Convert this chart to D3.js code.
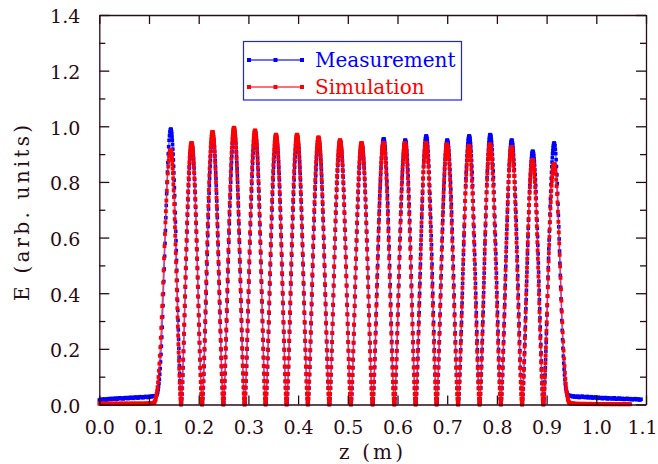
<!DOCTYPE html>
<html><head><meta charset="utf-8">
<script src="https://cdn.jsdelivr.net/npm/d3@7/dist/d3.min.js"></script>
<style>body{margin:0;background:#fff}svg{display:block}</style>
</head><body>
<svg id="c" width="658" height="464"></svg>
<script>
// ---------- data ----------
const xTicks = [0.0,0.1,0.2,0.3,0.4,0.5,0.6,0.7,0.8,0.9,1.0,1.1];
const yTicks = [0.0,0.2,0.4,0.6,0.8,1.0,1.2,1.4];
const yMinorTicks = [0.1,0.3,0.5,0.7,0.9,1.1,1.3];
const seriesNames = ["Measurement","Simulation"];

// peak positions (m) of the 19 lobes
const simPeakZ  = [0.1433,0.1855,0.2278,0.2710,0.3133,0.3555,0.3978,0.4410,0.4843,0.5276,
                   0.5718,0.6151,0.6573,0.6996,0.7439,0.7861,0.8294,0.8716,0.9149];
const measPeakZ = [0.1437,0.1860,0.2283,0.2714,0.3138,0.3560,0.3983,0.4414,0.4848,0.5281,
                   0.5722,0.6156,0.6578,0.7001,0.7443,0.7866,0.8298,0.8721,0.9153];
// lobe peak heights
const measAmp = [0.990,0.935,0.965,0.980,0.975,0.960,0.960,0.950,0.945,0.935,
                 0.955,0.950,0.965,0.950,0.965,0.970,0.950,0.910,0.940];
const simAmp  = [0.915,0.940,0.980,0.995,0.985,0.970,0.970,0.960,0.950,0.940,
                 0.940,0.940,0.940,0.935,0.930,0.935,0.925,0.880,0.865];
// normalised half-lobe shape, valley -> peak (41 samples)
const halfLobe = [0.000,0.008,0.022,0.040,0.062,0.086,0.113,0.141,0.172,0.204,
                  0.237,0.271,0.306,0.342,0.378,0.414,0.451,0.487,0.523,0.559,
                  0.595,0.629,0.663,0.696,0.728,0.758,0.787,0.815,0.841,0.865,
                  0.888,0.909,0.927,0.944,0.959,0.971,0.982,0.990,0.995,0.999,1.000];
// normalised shape of the outer flanks (foot -> peak), 41 samples
const edgeShape = [0.000,0.000,0.000,0.001,0.001,0.003,0.006,0.011,0.016,0.025,
                   0.035,0.048,0.063,0.082,0.103,0.128,0.156,0.187,0.221,0.258,
                   0.297,0.339,0.383,0.429,0.476,0.524,0.572,0.620,0.668,0.714,
                   0.758,0.800,0.839,0.874,0.907,0.934,0.958,0.975,0.989,0.997,1.000];
// foot positions of the outer flanks (left, right)
const measFeet = [0.111,0.946];
const simFeet  = [0.106,0.950];
// flat background, 2 mm sampling
const bgStep = 0.002;
const measBgLeftStart = 0.000;
const measBgLeft = [0.016,0.018,0.015,0.019,0.017,0.020,0.018,0.016,0.019,0.021,
                    0.018,0.020,0.022,0.019,0.021,0.020,0.023,0.021,0.019,0.022,
                    0.024,0.021,0.023,0.022,0.020,0.024,0.022,0.025,0.023,0.021,
                    0.024,0.026,0.023,0.025,0.022,0.026,0.024,0.027,0.025,0.023,
                    0.026,0.028,0.025,0.027,0.024,0.028,0.026,0.029,0.027,0.025,
                    0.028,0.030,0.027,0.029,0.031,0.030];
const simBgLeftStart = 0.000;
const simBgLeft = [0.003,0.002,0.003,0.004,0.002,0.003,0.003,0.002,0.004,0.003,
                   0.002,0.003,0.004,0.003,0.002,0.003,0.003,0.004,0.002,0.003,
                   0.003,0.002,0.004,0.003,0.003,0.002,0.003,0.004,0.003,0.002,
                   0.003,0.003,0.004,0.002,0.003,0.003,0.004,0.003,0.002,0.003,
                   0.004,0.003,0.003,0.002,0.004,0.003,0.003,0.004,0.003,0.004,
                   0.004,0.005,0.005];
const measBgRightStart = 0.948;
const measBgRight = [0.032,0.030,0.028,0.031,0.027,0.029,0.026,0.030,0.028,0.025,
                     0.029,0.027,0.030,0.026,0.028,0.025,0.027,0.029,0.024,0.027,
                     0.025,0.028,0.023,0.026,0.024,0.027,0.025,0.022,0.026,0.024,
                     0.023,0.025,0.021,0.024,0.022,0.025,0.023,0.020,0.024,0.022,
                     0.021,0.023,0.020,0.022,0.024,0.021,0.019,0.022,0.020,0.023,
                     0.021,0.019,0.022,0.020,0.018,0.021,0.019,0.022,0.020,0.018,
                     0.021,0.019,0.017,0.020,0.018,0.021,0.019,0.017,0.020,0.018,
                     0.016,0.019];
const simBgRightStart = 0.952;
const simBgRight = [0.004,0.004,0.003,0.003,0.002,0.003,0.002,0.003,0.002,0.002,
                    0.003,0.002,0.002,0.003,0.002,0.001,0.002,0.002,0.003,0.002,
                    0.001,0.002,0.002,0.001,0.002,0.002,0.001,0.002,0.001,0.002,
                    0.002,0.001,0.002,0.001,0.001,0.002,0.001,0.002,0.001,0.001,
                    0.002,0.001,0.001,0.002,0.001,0.001,0.002,0.001,0.001,0.001,
                    0.002,0.001,0.001,0.001,0.002,0.001,0.001,0.001,0.001];

// ---------- assemble point lists from the arrays ----------
function buildSeries(peakZ, amp, feet, bgL, bgLStart, bgR, bgRStart){
  const pts = [];
  bgL.forEach((v,i)=>pts.push([bgLStart+i*bgStep, v]));
  const baseL = bgL[bgL.length-1], baseR = bgR[0];
  const n = edgeShape.length-1;
  for(let k=1;k<=n;k++){
    pts.push([feet[0]+(peakZ[0]-feet[0])*k/n, baseL+(amp[0]-baseL)*edgeShape[k]]);
  }
  const h = halfLobe.length-1;
  for(let i=0;i<peakZ.length-1;i++){
    const valley = (peakZ[i]+peakZ[i+1])/2;
    for(let k=h-1;k>=0;k--){
      pts.push([peakZ[i]+(valley-peakZ[i])*(h-k)/h, amp[i]*halfLobe[k]]);
    }
    for(let k=1;k<=h;k++){
      pts.push([valley+(peakZ[i+1]-valley)*k/h, amp[i+1]*halfLobe[k]]);
    }
  }
  const L = peakZ.length-1;
  for(let k=n-1;k>=0;k--){
    pts.push([peakZ[L]+(feet[1]-peakZ[L])*(n-k)/n, baseR+(amp[L]-baseR)*edgeShape[k]]);
  }
  bgR.forEach((v,i)=>pts.push([bgRStart+i*bgStep, v]));
  return pts;
}
const measPts = buildSeries(measPeakZ, measAmp, measFeet, measBgLeft, measBgLeftStart, measBgRight, measBgRightStart);
const simPts  = buildSeries(simPeakZ,  simAmp,  simFeet,  simBgLeft,  simBgLeftStart,  simBgRight,  simBgRightStart);

// ---------- drawing ----------
const axisCol = "#2a0a14";
const font = "'DejaVu Serif', 'Liberation Serif', serif";
const svg = d3.select("#c");
const M = {l:99.3, r:646, t:15, b:404.5};
const x = d3.scaleLinear().domain([0,1.1]).range([M.l,M.r]);
const y = d3.scaleLinear().domain([0,1.4]).range([M.b,M.t]);

const line = d3.line().x(d=>x(d[0])).y(d=>y(d[1]));
function drawSeries(pts, col, lineCol, ms){
  const g = svg.append("g");
  g.append("path").attr("d", line(pts)).attr("fill","none")
    .attr("stroke", lineCol).attr("stroke-width",1.4).attr("stroke-opacity",0.75);
  g.selectAll("rect").data(pts).enter().append("rect")
    .attr("x", d=>x(d[0])-ms/2).attr("y", d=>y(d[1])-ms/2)
    .attr("width", ms).attr("height", ms).attr("fill", col);
}
drawSeries(measPts, "#0000ff", "#4040ff", 3.6);
drawSeries(simPts,  "#ff0000", "#ff2040", 3.8);

// axes
const fs = 19;
function styleAxis(g){
  g.selectAll("path.domain").attr("stroke", axisCol).attr("stroke-width",1.3);
  g.selectAll(".tick line").attr("stroke", axisCol).attr("stroke-width",1.3);
  g.selectAll("text").attr("fill", axisCol).attr("font-family", font).attr("font-size", fs);
}
const gx = svg.append("g").attr("transform",`translate(0,${M.b})`)
  .call(d3.axisBottom(x).tickValues(xTicks).tickSize(-9).tickSizeOuter(0).tickPadding(16).tickFormat(d3.format(".1f")));
styleAxis(gx);
// keep the last label inside the 658 px window (as in the reference)
gx.selectAll(".tick text").filter(d=>d===xTicks[xTicks.length-1]).attr("dx",-4);
const gxt = svg.append("g").attr("transform",`translate(0,${M.t})`)
  .call(d3.axisTop(x).tickValues(xTicks).tickSize(-9).tickSizeOuter(0).tickFormat(""));
styleAxis(gxt);
const gy = svg.append("g").attr("transform",`translate(${M.l},0)`)
  .call(d3.axisLeft(y).tickValues(yTicks).tickSize(-10).tickSizeOuter(0).tickPadding(19).tickFormat(d3.format(".1f")));
styleAxis(gy);
gy.selectAll("text").attr("dy","0.42em");
const gym = svg.append("g").attr("transform",`translate(${M.l},0)`)
  .call(d3.axisLeft(y).tickValues(yMinorTicks).tickSize(-6).tickSizeOuter(0).tickFormat(""));
styleAxis(gym); gym.select("path.domain").remove();
const gyr = svg.append("g").attr("transform",`translate(${M.r},0)`)
  .call(d3.axisRight(y).tickValues(yTicks).tickSize(-10).tickSizeOuter(0).tickFormat(""));
styleAxis(gyr);
const gyrm = svg.append("g").attr("transform",`translate(${M.r},0)`)
  .call(d3.axisRight(y).tickValues(yMinorTicks).tickSize(-6).tickSizeOuter(0).tickFormat(""));
styleAxis(gyrm); gyrm.select("path.domain").remove();

// axis titles
svg.append("text").attr("x", 371).attr("y", 459).attr("text-anchor","middle")
  .attr("font-family", font).attr("font-size",20).attr("fill",axisCol)
  .attr("textLength",64).attr("lengthAdjust","spacing").text("z (m)");
svg.append("text").attr("transform","translate(29,213) rotate(-90)").attr("text-anchor","middle")
  .attr("font-family", font).attr("font-size",20).attr("fill",axisCol)
  .attr("textLength",176).attr("lengthAdjust","spacing").text("E (arb. units)");

// legend
const leg = svg.append("g");
leg.append("rect").attr("x",243.5).attr("y",41.5).attr("width",218).attr("height",58.5)
  .attr("fill","#fff").attr("stroke","#2020ff").attr("stroke-width",1.2);
const legRows = [{name:seriesNames[0], col:"#0000ff", lc:"#4040ff", yy:60},
                 {name:seriesNames[1], col:"#ff0000", lc:"#ff4040", yy:87}];
legRows.forEach(r=>{
  leg.append("line").attr("x1",249).attr("x2",302).attr("y1",r.yy).attr("y2",r.yy)
    .attr("stroke",r.lc).attr("stroke-width",1.6);
  [249,275.5,302].forEach(px=>leg.append("rect").attr("x",px-2).attr("y",r.yy-2)
    .attr("width",4).attr("height",4).attr("fill",r.col));
  leg.append("text").attr("x",315).attr("y",r.yy+6.5).attr("font-family",font)
    .attr("font-size",20).attr("fill",r.col).text(r.name);
});
</script>
</body></html>
